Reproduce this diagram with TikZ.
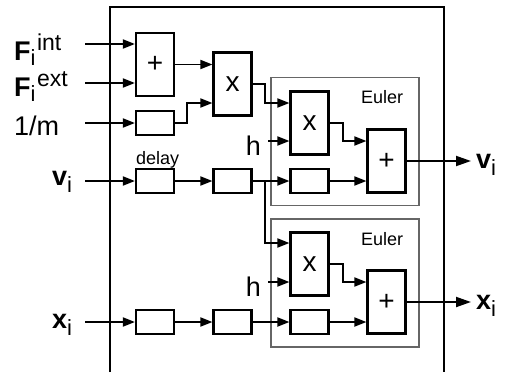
\documentclass[tikz,border=0pt]{standalone}
\usepackage{fontspec}
\setmainfont{Liberation Sans}
\usetikzlibrary{arrows.meta,calc}
\begin{document}
\begin{tikzpicture}[x=1pt,y=-1pt,
  blk/.style={draw, line width=2.2pt, inner sep=0pt, minimum width=38pt, fill=white},
  tall/.style={blk, minimum height=63pt},
  dly/.style={blk, minimum height=24pt},
  frame/.style={draw=black!60, line width=1.1pt, minimum width=148pt, minimum height=128pt, inner sep=0pt},
  arr/.style={line width=1.9pt, -{Triangle[length=12pt,width=9pt]}},
  oarr/.style={line width=1.9pt, -{Triangle[length=15pt,width=10pt]}},
  lbl/.style={font=\fontsize{27}{30}\selectfont, inner sep=0pt},
  sym/.style={font=\fontsize{28}{30}\selectfont},
  small/.style={font=\fontsize{18}{20}\selectfont, inner sep=0pt}]
\useasboundingbox (0,0) rectangle (505,372);
% outer system box (open at the bottom)
\draw[line width=1.1pt] (110,372) -- (110,7) -- (444,7) -- (444,372);
% Euler frames
\node[frame] (eul1) at (345,141.5) {};
\node[frame] (eul2) at (345,283) {};
\node[small, anchor=base west] (e1lbl) at (361,103) {Euler};
\node[small, anchor=base west] (e2lbl) at (361,245) {Euler};
% blocks
\node[tall,sym] (plusF) at (155,64.5) {+};
\node[tall,sym] (mulF) at (232.5,84) {x};
\node[dly] (invm) at (155,123) {};
\node[dly] (dv1) at (155,181) {};
\node[dly] (dv2) at (232.5,181) {};
\node[tall,sym] (mul1) at (309.5,123) {x};
\node[tall,sym] (plus1) at (386.5,161) {+};
\node[dly] (dv3) at (309.5,181) {};
\node[tall,sym] (mul2) at (309.5,264) {x};
\node[tall,sym] (plus2) at (386.5,302) {+};
\node[dly] (dx1) at (155,322) {};
\node[dly] (dx2) at (232.5,322) {};
\node[dly] (dx3) at (309.5,322) {};
% labels
\node[lbl, anchor=base west] (lFint) at (14,60) {\textbf{F}\raisebox{-5pt}{\fontsize{22}{24}\selectfont i}\kern1.5pt\raisebox{10pt}{\fontsize{23}{24}\selectfont int}};
\node[lbl, anchor=base west] (lFext) at (14,96) {\textbf{F}\raisebox{-5pt}{\fontsize{22}{24}\selectfont i}\kern1.5pt\raisebox{10pt}{\fontsize{23}{24}\selectfont ext}};
\node[lbl, anchor=base west] (lm) at (14,135) {1/m};
\node[lbl, anchor=base west] (lv) at (52,185) {\textbf{v}\raisebox{-7pt}{\fontsize{22}{24}\selectfont i}};
\node[lbl, anchor=base west] (lx) at (52,328) {\textbf{x}\raisebox{-7pt}{\fontsize{22}{24}\selectfont i}};
\node[lbl, anchor=base west] (lvo) at (476,168) {\textbf{v}\raisebox{-7pt}{\fontsize{22}{24}\selectfont i}};
\node[lbl, anchor=base west] (lxo) at (476,309) {\textbf{x}\raisebox{-7pt}{\fontsize{22}{24}\selectfont i}};
\node[lbl, anchor=base east] (h1l) at (261,155) {h};
\node[lbl, anchor=base east] (h2l) at (261,296) {h};
\node[small, anchor=base west] (dl) at (136,164) {delay};
% free ends
\coordinate (inFint) at (85,44);
\coordinate (inFext) at (85,83);
\coordinate (inm) at (85,123);
\coordinate (inv) at (85,181);
\coordinate (inx) at (85,322);
\coordinate (h1) at (268,141);
\coordinate (h2) at (268,282);
\coordinate (vout) at (471,161);
\coordinate (xout) at (471,302);
% connectors
\draw[arr] (inFint) -- (inFint -| plusF.west);
\draw[arr] (inFext) -- (inFext -| plusF.west);
\draw[arr] (inm) -- (invm.west);
\draw[arr] (plusF.east) -- (plusF.east -| mulF.west);
\draw[arr] (invm.east) -- ++(12,0) |- ([yshift=-19pt]mulF.west);
\draw[arr] (mulF.east) -- ++(12,0) |- ([yshift=20pt]mul1.west);
\draw[arr] (h1) -- (h1 -| mul1.west);
\draw[arr] (mul1.east) -- ++(13,0) |- ([yshift=20pt]plus1.west);
\draw[arr] (dv3.east) -- (dv3.east -| plus1.west);
\draw[oarr] (plus1.east) -- (vout);
\draw[arr] (inv) -- (dv1.west);
\draw[arr] (dv1) -- (dv2);
\draw[arr] (dv2) -- (dv3);
\draw[arr] (dv2.east) -- ++(12,0) |- ([yshift=21pt]mul2.west);
\draw[arr] (h2) -- (h2 -| mul2.west);
\draw[arr] (mul2.east) -- ++(13,0) |- ([yshift=20pt]plus2.west);
\draw[arr] (dx3.east) -- (dx3.east -| plus2.west);
\draw[oarr] (plus2.east) -- (xout);
\draw[arr] (inx) -- (dx1.west);
\draw[arr] (dx1) -- (dx2);
\draw[arr] (dx2) -- (dx3);
\end{tikzpicture}
\end{document}
